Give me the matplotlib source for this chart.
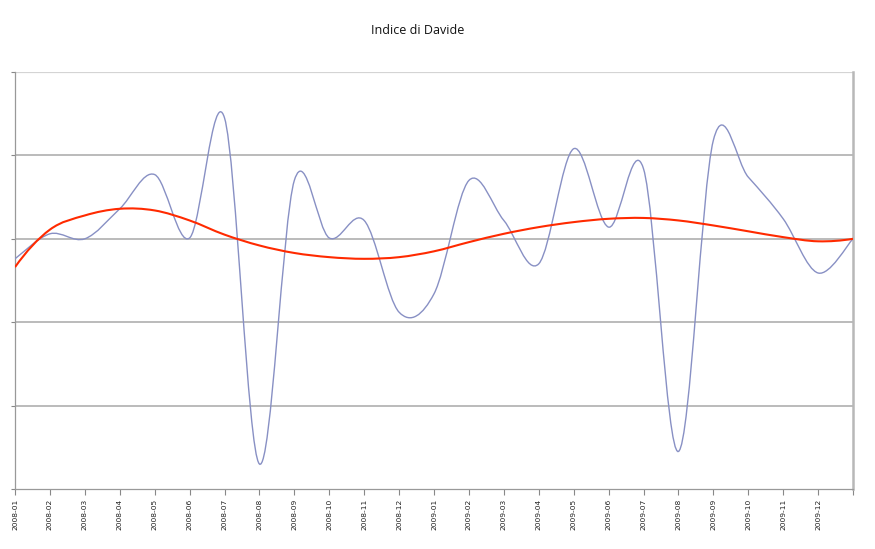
import matplotlib
matplotlib.use("Agg")
import matplotlib.pyplot as plt
from matplotlib.path import Path
from matplotlib.patches import PathPatch

# monthly labels (last point at x=24 is the end of 2009-12)
months = [f"{y}-{m:02d}" for y in (2008, 2009) for m in range(1, 13)]

# index values (arbitrary units, one gridline = 1)
indice = [-0.24, 0.06, 0.00, 0.36, 0.77, 0.01, 1.45, -2.70, 0.70, 0.01,
          0.22, -0.88, -0.66, 0.70, 0.22, -0.30, 1.08, 0.14, 0.84, -2.55,
          1.18, 0.74, 0.24, -0.41, 0.00]

# polynomial trend line, as drawn
tendenza = [-0.34, 0.11, 0.28, 0.36, 0.34, 0.22, 0.05, -0.08, -0.17, -0.22,
            -0.24, -0.22, -0.15, -0.04, 0.06, 0.14, 0.20, 0.24, 0.25, 0.22,
            0.16, 0.09, 0.02, -0.03, 0.00]


def smooth_path(ys, curved_ends=False):
    """Catmull-Rom style Bezier path through the points (like a 'smoothed line')."""
    pts = list(zip(range(len(ys)), ys))
    if curved_ends:
        # phantom end points continuing the curvature
        first = (-1, 3 * ys[0] - 3 * ys[1] + ys[2])
        last = (len(ys), 3 * ys[-1] - 3 * ys[-2] + ys[-3])
    else:
        first, last = pts[0], pts[-1]
    ext = [first] + pts + [last]
    verts = [pts[0]]
    codes = [Path.MOVETO]
    for i in range(1, len(ext) - 2):
        p0, p1, p2, p3 = ext[i - 1], ext[i], ext[i + 1], ext[i + 2]
        c1 = (p1[0] + (p2[0] - p0[0]) / 6, p1[1] + (p2[1] - p0[1]) / 6)
        c2 = (p2[0] - (p3[0] - p1[0]) / 6, p2[1] - (p3[1] - p1[1]) / 6)
        verts += [c1, c2, p2]
        codes += [Path.CURVE4] * 3
    return Path(verts, codes)


fig = plt.figure(figsize=(8.75, 5.49), dpi=100)
ax = fig.add_axes([15 / 875, 1 - 489 / 549, 838 / 875, 417 / 549])

ax.set_xlim(0, 24)
ax.set_ylim(-3, 2)

for y in range(-2, 2):
    ax.axhline(y, color="#a8a8a8", lw=1.1, zorder=1)
ax.axhline(2, color="#d4d4d4", lw=1.6, zorder=1)

ax.add_patch(PathPatch(smooth_path(indice), fill=False, edgecolor="#8890c4",
                       lw=1.0, zorder=3))
ax.add_patch(PathPatch(smooth_path(tendenza, curved_ends=True), fill=False,
                       edgecolor="#ff2a00", lw=1.5, zorder=4))

ax.set_xticks(range(25))
ax.set_xticklabels(months + [""], rotation=90, fontsize=5.4, color="#222222")
ax.set_yticks(range(-3, 3))
ax.set_yticklabels([])
ax.tick_params(axis="x", direction="out", length=4, width=0.8, color="#888888", pad=3)
ax.tick_params(axis="y", direction="out", length=3, width=0.8, color="#888888")

ax.spines["top"].set_visible(False)
ax.spines["left"].set_color("#999999")
ax.spines["left"].set_linewidth(0.9)
ax.spines["bottom"].set_color("#999999")
ax.spines["bottom"].set_linewidth(0.9)
ax.spines["right"].set_color("#b8b8b8")
ax.spines["right"].set_linewidth(1.8)

fig.text(418 / 875, 1 - 30 / 549, "Indice di Davide", ha="center", va="center",
         fontsize=9, family="Open Sans", color="#111111")

fig.savefig("out.png", dpi=100)
